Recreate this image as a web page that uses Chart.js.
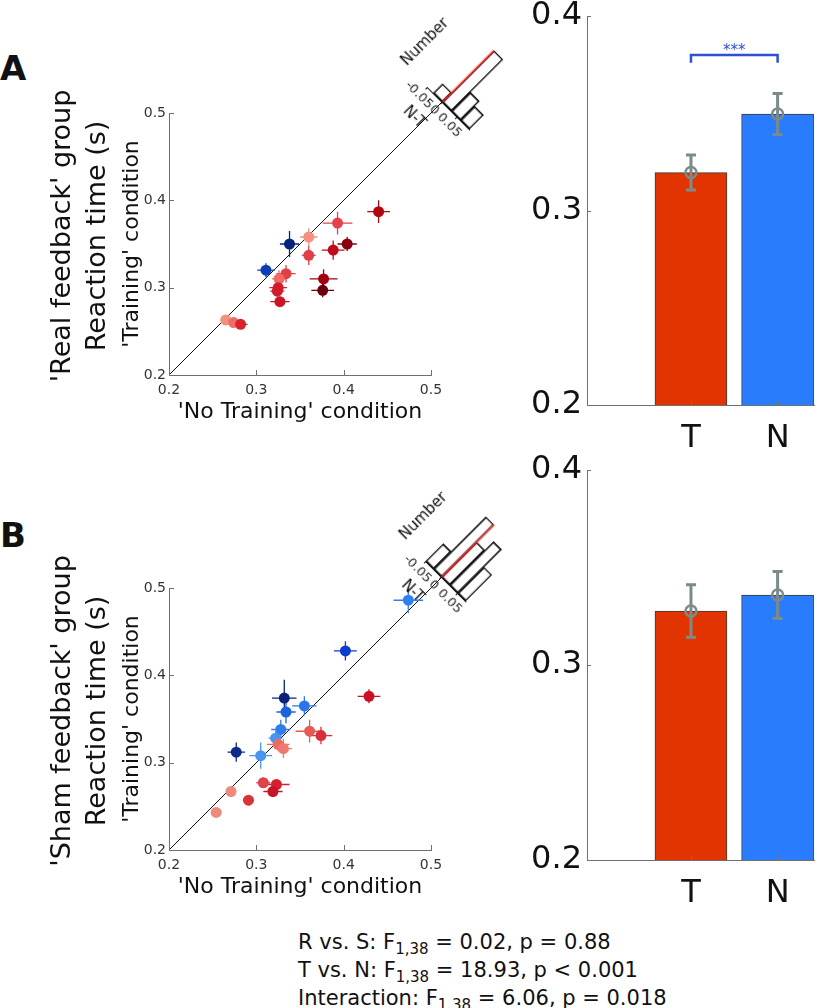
<!DOCTYPE html>
<html>
<head>
<meta charset="utf-8">
<script src="https://cdn.jsdelivr.net/npm/chart.js@4.4.0/dist/chart.umd.min.js"></script>
<style>
  body { margin: 0; background: #fff; }
  #page { position: relative; width: 822px; height: 1008px; overflow: hidden; font-family: "DejaVu Sans", Verdana, sans-serif; color: #111; }
  canvas { position: absolute; }
  .panel { position: absolute; left: 0; font-weight: bold; font-size: 34px; line-height: 1; }
  #stats { position: absolute; left: 298px; top: 928px; font-size: 21px; line-height: 28px; white-space: nowrap; }
  #stats sub { font-size: 15px; line-height: 0; vertical-align: -5px; }
</style>
</head>
<body>
<div id="page">
  <div class="panel" style="top:51px">A</div>
  <div class="panel" style="top:518px">B</div>

  <canvas id="scatterA" width="470" height="400" style="left:0px;top:40px"></canvas>
  <canvas id="scatterB" width="470" height="400" style="left:0px;top:515px"></canvas>
  <canvas id="barA" width="322" height="460" style="left:500px;top:0px"></canvas>
  <canvas id="barB" width="322" height="460" style="left:500px;top:455px"></canvas>
  <canvas id="histA" width="122" height="128" style="left:0px;top:0px"></canvas>
  <canvas id="histB" width="119" height="129" style="left:0px;top:0px"></canvas>

  <div id="stats">R vs. S: F<sub>1,38</sub> = 0.02, p = 0.88<br>T vs. N: F<sub>1,38</sub> = 18.93, p &lt; 0.001<br>Interaction: F<sub>1,38</sub> = 6.06, p = 0.018</div>
</div>

<script>
// --- 'Real feedback' group: per-subject reaction times (s) ---
const realNoTrain = [0.265, 0.274, 0.282, 0.311, 0.338, 0.360, 0.360, 0.393, 0.440, 0.404, 0.388, 0.377, 0.376, 0.334, 0.326, 0.325, 0.324, 0.327];
const realTrain   = [0.263, 0.260, 0.258, 0.320, 0.350, 0.358, 0.337, 0.374, 0.387, 0.350, 0.343, 0.310, 0.297, 0.316, 0.310, 0.300, 0.296, 0.284];
const realNoTrainErr = [0.006, 0.007, 0.008, 0.010, 0.011, 0.010, 0.008, 0.017, 0.013, 0.011, 0.013, 0.016, 0.013, 0.011, 0.008, 0.010, 0.008, 0.011];
const realTrainErr   = [0.004, 0.004, 0.004, 0.008, 0.015, 0.010, 0.011, 0.013, 0.013, 0.008, 0.011, 0.011, 0.008, 0.010, 0.010, 0.008, 0.006, 0.006];
const realColors = ['#f4907f', '#ee6f66', '#d9242f', '#0d3db5', '#07237e', '#f4907f', '#e04148', '#e5424c', '#b3050f',
                    '#8a0010', '#c10a1a', '#a3000f', '#6b000d', '#e04148', '#f06a66', '#d01c2c', '#d01c2c', '#cc1427'];

// --- 'Sham feedback' group ---
const shamNoTrain = [0.254, 0.271, 0.291, 0.277, 0.305, 0.308, 0.323, 0.319, 0.322, 0.328, 0.325, 0.331, 0.332, 0.334, 0.355, 0.361, 0.374, 0.429, 0.402, 0.474];
const shamTrain   = [0.243, 0.267, 0.257, 0.312, 0.308, 0.277, 0.275, 0.267, 0.328, 0.338, 0.321, 0.316, 0.374, 0.358, 0.365, 0.336, 0.331, 0.376, 0.428, 0.486];
const shamNoTrainErr = [0.006, 0.006, 0.006, 0.010, 0.013, 0.008, 0.015, 0.011, 0.008, 0.011, 0.013, 0.010, 0.014, 0.011, 0.014, 0.016, 0.013, 0.013, 0.013, 0.017];
const shamTrainErr   = [0.004, 0.006, 0.006, 0.011, 0.015, 0.006, 0.006, 0.006, 0.008, 0.011, 0.008, 0.011, 0.021, 0.013, 0.011, 0.013, 0.010, 0.008, 0.011, 0.015];
const shamColors = ['#f08a7c', '#f08a7c', '#d9333a', '#0a2a8c', '#4a95f0', '#e0444a', '#d61f30', '#c81428', '#4a95f0', '#2f7de8',
                    '#ee6a60', '#f07870', '#0b2277', '#1d62dd', '#2a75ea', '#e45a55', '#d8303a', '#cc0f25', '#0a3ccf', '#2f7ff0'];

const scatterTicks = [0.2, 0.3, 0.4, 0.5];
const diagStart = 0.2;
const diagEndA = 0.5126;
const diagEndB = 0.5122;

// histograms of N-T differences (bin centres, counts)
const histCentersA = [-0.015, 0.015, 0.045, 0.075];
const histCountsA  = [2, 11, 4, 3];
const histMaxA = 0.09;
const histCentersB = [-0.0375, -0.0125, 0.0125, 0.0375, 0.0625];
const histCountsB  = [2, 6, 4, 5, 3];
const histMaxB = 0.075;
const histTicks = [-0.05, 0, 0.05];

// group means with SEM
const barCategories = ['T', 'N'];
const realBarMeans = [0.3195, 0.3496];
const realBarSem   = [0.0090, 0.0105];
const shamBarMeans = [0.3277, 0.3359];
const shamBarSem   = [0.0135, 0.0120];
const barTicks = [0.2, 0.3, 0.4];
const sigLevel = 0.380;
const sigDrop = 0.004;

const axisGray = '#707070';
const errGray = '#7b8a8b';
const sigBlue = '#2e4fd6';
const barColors = ['#e23400', '#2a7cff'];

Chart.defaults.font.family = "'DejaVu Sans', Verdana, sans-serif";
Chart.defaults.color = '#222';
Chart.defaults.plugins.legend.display = false;
Chart.defaults.plugins.tooltip.enabled = false;

// MATLAB style ticks pointing into the axes
const innerTicks = {
  id: 'innerTicks',
  afterDatasetsDraw(chart, args, opts) {
    if (!opts.length) return;
    const ctx = chart.ctx, area = chart.chartArea;
    ctx.save();
    ctx.strokeStyle = opts.color;
    ctx.lineWidth = 1;
    ['x', 'y'].forEach(function (id) {
      const s = chart.scales[id];
      s.ticks.forEach(function (t) {
        const p = Math.round(s.getPixelForValue(t.value)) + 0.5;
        ctx.beginPath();
        if (s.isHorizontal()) { ctx.moveTo(p, area.bottom); ctx.lineTo(p, area.bottom - opts.length); }
        else { ctx.moveTo(area.left, p); ctx.lineTo(area.left + opts.length, p); }
        ctx.stroke();
      });
    });
    ctx.restore();
  }
};

// error bars stored on the dataset (errX / errY), drawn just before that dataset
const errorBars = {
  id: 'errorBars',
  beforeDatasetDraw(chart, args) {
    const ds = chart.data.datasets[args.index];
    if (!ds.errX && !ds.errY) return;
    const ctx = chart.ctx, xs = chart.scales.x, ys = chart.scales.y;
    ctx.save();
    ctx.lineWidth = ds.errWidth;
    ds.data.forEach(function (d, i) {
      ctx.strokeStyle = Array.isArray(ds.errColor) ? ds.errColor[i] : ds.errColor;
      const px = xs.getPixelForValue(d.x), py = ys.getPixelForValue(d.y);
      ctx.beginPath();
      if (ds.errX) {
        ctx.moveTo(xs.getPixelForValue(d.x - ds.errX[i]), py);
        ctx.lineTo(xs.getPixelForValue(d.x + ds.errX[i]), py);
      }
      if (ds.errY) {
        const lo = ys.getPixelForValue(d.y - ds.errY[i]), hi = ys.getPixelForValue(d.y + ds.errY[i]);
        ctx.moveTo(px, lo); ctx.lineTo(px, hi);
        if (ds.errCap) {
          ctx.moveTo(px - ds.errCap, lo); ctx.lineTo(px + ds.errCap, lo);
          ctx.moveTo(px - ds.errCap, hi); ctx.lineTo(px + ds.errCap, hi);
        }
      }
      ctx.stroke();
    });
    ctx.restore();
  },
  afterDatasetsDraw(chart) {
    // significance stars above a bracket dataset
    chart.data.datasets.forEach(function (ds) {
      if (!ds.sigText) return;
      const xs = chart.scales.x, ys = chart.scales.y, ctx = chart.ctx;
      const xsVals = ds.data.map(d => d.x), top = Math.max(...ds.data.map(d => d.y));
      const cx = xs.getPixelForValue((Math.min(...xsVals) + Math.max(...xsVals)) / 2);
      ctx.save();
      ctx.fillStyle = ds.borderColor;
      ctx.font = "15px 'DejaVu Sans'";
      ctx.textAlign = 'center';
      ctx.textBaseline = 'middle';
      ctx.fillText(ds.sigText, cx, ys.getPixelForValue(top) - 4);
      ctx.restore();
    });
  }
};

Chart.register(innerTicks, errorBars);

// rotated group / measure labels left of the scatter axes
function sideLabels(lines, shift) {
  return {
    id: 'sideLabels',
    afterDraw(chart) {
      const ctx = chart.ctx, area = chart.chartArea;
      const cy = (area.top + area.bottom) / 2 + shift;
      ctx.save();
      ctx.fillStyle = '#111';
      ctx.textAlign = 'center';
      ctx.textBaseline = 'middle';
      lines.forEach(function (l) {
        ctx.save();
        ctx.translate(l.x, cy);
        ctx.rotate(-Math.PI / 2);
        ctx.font = l.size + "px 'DejaVu Sans'";
        ctx.fillText(l.text, 0, 0);
        ctx.restore();
      });
      ctx.restore();
    }
  };
}

function fixSize(w, h) {
  return function (scale) {
    if (w != null) scale.width = w;
    if (h != null) scale.height = h;
    scale.paddingTop = 0; scale.paddingBottom = 0;
    scale.paddingLeft = 0; scale.paddingRight = 0;
  };
}

function setTicks(values) {
  return function (scale) { scale.ticks = values.map(v => ({ value: v })); };
}

function scatterChart(id, xs, ys, xe, ye, colors, diagEnd, groupLabel) {
  const pts = xs.map((x, i) => ({ x: x, y: ys[i] }));
  return new Chart(document.getElementById(id), {
    type: 'scatter',
    data: {
      datasets: [
        {
          data: pts, order: 0, pointRadius: 5.5, pointHoverRadius: 5.5,
          pointBackgroundColor: colors, pointBorderColor: colors, pointBorderWidth: 0,
          errX: xe, errY: ye, errColor: colors, errWidth: 1.3
        },
        {
          type: 'line', order: 1, data: [{ x: diagStart, y: diagStart }, { x: diagEnd, y: diagEnd }],
          borderColor: '#111', borderWidth: 1, pointRadius: 0, clip: false
        }
      ]
    },
    plugins: [sideLabels([
      { text: groupLabel, size: 27, x: 63 },
      { text: 'Reaction time (s)', size: 27, x: 98 }
    ], -8)],
    options: {
      responsive: false,
      animation: false,
      layout: { padding: { left: 119.4, top: 73, right: 39, bottom: 15 } },
      plugins: { innerTicks: { length: 5, color: axisGray } },
      scales: {
        x: {
          type: 'linear', min: 0.2, max: 0.5,
          afterBuildTicks: setTicks(scatterTicks), afterFit: fixSize(null, 50),
          grid: { display: false, drawTicks: false }, border: { display: true, color: axisGray },
          ticks: { font: { size: 14 }, color: '#333', padding: 7, callback: v => v.toFixed(1) },
          title: { display: true, text: "'No Training' condition", font: { size: 22 }, color: '#111', padding: 0 }
        },
        y: {
          type: 'linear', min: 0.2, max: 0.5,
          afterBuildTicks: setTicks(scatterTicks), afterFit: fixSize(49.6, null),
          grid: { display: false, drawTicks: false }, border: { display: true, color: axisGray },
          ticks: { font: { size: 14 }, color: '#333', padding: 3, callback: v => v.toFixed(1) },
          title: { display: true, text: "'Training' condition", font: { size: 22 }, color: '#111', padding: 0 }
        }
      }
    }
  });
}

function barChart(id, means, sems, topPad, withSig) {
  const pts = means.map((m, i) => ({ x: i + 1, y: m }));
  const datasets = [
    {
      type: 'bar', data: pts, base: 0.2, order: 2, barThickness: 72,
      backgroundColor: barColors, borderColor: '#3a3a3a', borderWidth: 1
    },
    {
      type: 'scatter', data: pts, order: 1, pointRadius: 5.5, pointHoverRadius: 5.5,
      pointBorderWidth: 2.5, pointBorderColor: errGray, pointBackgroundColor: 'rgba(0,0,0,0)',
      errY: sems, errColor: errGray, errWidth: 3, errCap: 5
    }
  ];
  if (withSig) {
    datasets.push({
      type: 'line', order: 0, sigText: '***',
      data: [{ x: 1, y: sigLevel - sigDrop }, { x: 1, y: sigLevel }, { x: 2, y: sigLevel }, { x: 2, y: sigLevel - sigDrop }],
      borderColor: sigBlue, borderWidth: 2.5, pointRadius: 0, fill: false
    });
  }
  return new Chart(document.getElementById(id), {
    type: 'bar',
    data: { datasets: datasets },
    options: {
      responsive: false,
      animation: false,
      layout: { padding: { left: 0, top: topPad, right: 2, bottom: 0 } },
      plugins: { innerTicks: { length: 4, color: axisGray } },
      scales: {
        x: {
          type: 'linear', min: -0.2, max: 2.42, offset: false,
          afterBuildTicks: setTicks([1, 2]), afterFit: fixSize(null, 55),
          grid: { display: false, drawTicks: false, offset: false }, border: { display: true, color: axisGray },
          ticks: { font: { size: 32 }, color: '#111', padding: 14, callback: v => barCategories[v - 1] }
        },
        y: {
          type: 'linear', min: 0.2, max: 0.4,
          afterBuildTicks: setTicks(barTicks), afterFit: fixSize(87, null),
          grid: { display: false, drawTicks: false }, border: { display: true, color: axisGray },
          ticks: { font: { size: 32 }, color: '#111', padding: 5, callback: v => v.toFixed(1) }
        }
      }
    }
  });
}

function histChart(id, centers, counts, xMax) {
  const top = Math.max(...counts);
  return new Chart(document.getElementById(id), {
    type: 'bar',
    data: {
      datasets: [
        {
          data: centers.map((c, i) => ({ x: c, y: counts[i] })), order: 1,
          backgroundColor: 'rgba(0,0,0,0)', borderColor: '#111', borderWidth: 1, borderSkipped: false,
          categoryPercentage: 1, barPercentage: 1
        },
        {
          type: 'line', order: 0, data: [{ x: 0, y: 0 }, { x: 0, y: top }],
          borderColor: '#ff1a1a', borderWidth: 1.6, pointRadius: 0
        }
      ]
    },
    options: {
      responsive: false,
      animation: false,
      layout: { padding: { left: 5, top: 10, right: 15, bottom: 5 } },
      scales: {
        x: {
          type: 'linear', min: -0.05, max: xMax, offset: false,
          afterBuildTicks: setTicks(histTicks), afterFit: fixSize(null, 40),
          grid: { display: true, drawOnChartArea: false, drawTicks: true, tickLength: 3, color: '#111', offset: false },
          border: { display: true, color: '#111' },
          ticks: { font: { size: 13 }, color: '#222', padding: 1, maxRotation: 0, minRotation: 0, autoSkip: false, callback: v => String(v) },
          title: { display: true, text: 'N-T', align: 'start', font: { size: 15 }, color: '#111', padding: 0 }
        },
        y: {
          min: 0, max: top,
          afterFit: fixSize(42, null),
          grid: { display: false, drawTicks: false }, border: { display: false },
          ticks: { display: false },
          title: { display: true, text: 'Number', align: 'start', font: { size: 15 }, color: '#111', padding: 0 }
        }
      }
    }
  });
}

// rotate the histogram 45 degrees and pin its zero onto the end of the diagonal
function placeHist(hist, scatter, diagEnd) {
  const sc = scatter.canvas, hc = hist.canvas;
  const ox = sc.offsetLeft + scatter.scales.x.getPixelForValue(diagEnd);
  const oy = sc.offsetTop + scatter.scales.y.getPixelForValue(diagEnd);
  const zx = hist.scales.x.getPixelForValue(0);
  const zy = hist.scales.y.getPixelForValue(0);
  hc.style.left = (ox - zx) + 'px';
  hc.style.top = (oy - zy) + 'px';
  hc.style.transformOrigin = zx + 'px ' + zy + 'px';
  hc.style.transform = 'rotate(45deg)';
}

const scA = scatterChart('scatterA', realNoTrain, realTrain, realNoTrainErr, realTrainErr, realColors, diagEndA, "'Real feedback' group");
const scB = scatterChart('scatterB', shamNoTrain, shamTrain, shamNoTrainErr, shamTrainErr, shamColors, diagEndB, "'Sham feedback' group");
barChart('barA', realBarMeans, realBarSem, 16, true);
barChart('barB', shamBarMeans, shamBarSem, 15, false);
const hA = histChart('histA', histCentersA, histCountsA, histMaxA);
const hB = histChart('histB', histCentersB, histCountsB, histMaxB);
placeHist(hA, scA, diagEndA);
placeHist(hB, scB, diagEndB);
</script>
</body>
</html>
